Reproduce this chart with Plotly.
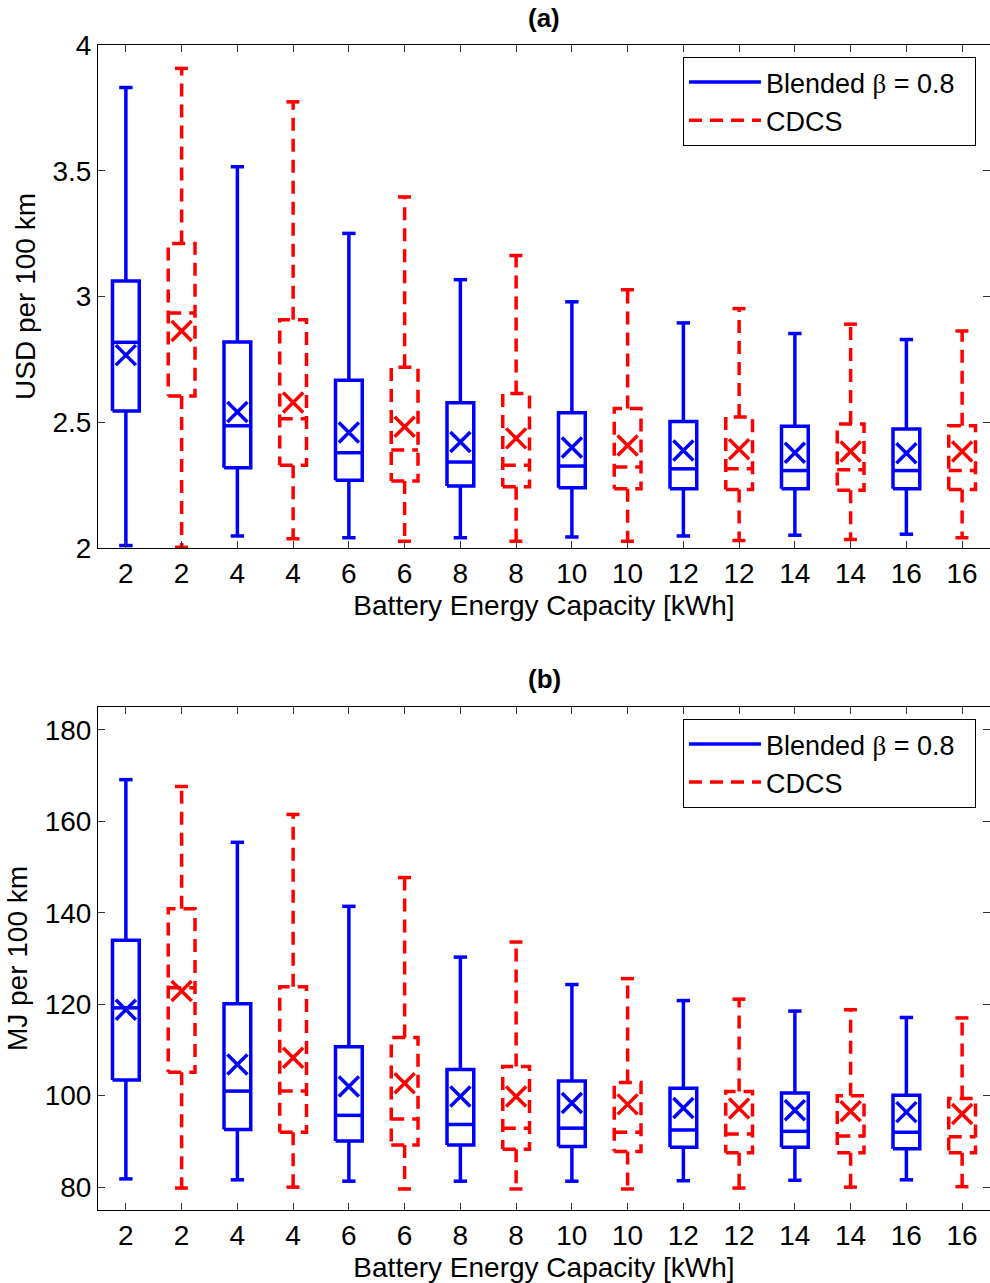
import plotly.graph_objects as go

# ---------------- data ----------------
capacities = [2, 4, 6, 8, 10, 12, 14, 16]
tick_labels = ["2", "2", "4", "4", "6", "6", "8", "8", "10", "10", "12", "12", "14", "14", "16", "16"]

# Panel (a): USD per 100 km
blend_upper_a = [3.831, 3.516, 3.251, 3.067, 2.979, 2.895, 2.853, 2.829]
blend_q3_a = [3.062, 2.819, 2.667, 2.578, 2.538, 2.503, 2.484, 2.473]
blend_median_a = [2.818, 2.486, 2.379, 2.342, 2.326, 2.315, 2.308, 2.308]
blend_q1_a = [2.545, 2.319, 2.270, 2.247, 2.240, 2.236, 2.236, 2.236]
blend_lower_a = [2.010, 2.048, 2.041, 2.041, 2.044, 2.048, 2.051, 2.055]
blend_mean_a = [2.767, 2.541, 2.459, 2.422, 2.400, 2.388, 2.379, 2.377]

cdcs_upper_a = [3.907, 3.774, 3.396, 3.163, 3.027, 2.952, 2.890, 2.863]
cdcs_q3_a = [3.211, 2.908, 2.719, 2.614, 2.555, 2.521, 2.493, 2.486]
cdcs_median_a = [2.934, 2.514, 2.390, 2.329, 2.322, 2.315, 2.311, 2.308]
cdcs_q1_a = [2.605, 2.329, 2.267, 2.244, 2.236, 2.233, 2.230, 2.233]
cdcs_lower_a = [2.003, 2.037, 2.027, 2.027, 2.027, 2.030, 2.034, 2.041]
cdcs_mean_a = [2.863, 2.579, 2.482, 2.436, 2.408, 2.393, 2.384, 2.384]

# Panel (b): MJ per 100 km
blend_upper_b = [169.1, 155.4, 141.4, 130.3, 124.3, 120.8, 118.5, 117.1]
blend_q3_b = [134.0, 120.1, 110.7, 105.7, 103.2, 101.6, 100.6, 100.1]
blend_median_b = [119.2, 101.0, 95.7, 93.7, 92.9, 92.5, 92.2, 92.0]
blend_q1_b = [103.4, 92.6, 90.1, 89.2, 88.9, 88.7, 88.7, 88.4]
blend_lower_b = [81.8, 81.6, 81.3, 81.3, 81.3, 81.4, 81.5, 81.6]
blend_mean_b = [118.8, 106.8, 102.0, 99.8, 98.4, 97.3, 96.8, 96.4]

cdcs_upper_b = [167.6, 161.5, 147.7, 133.6, 125.6, 121.1, 118.8, 117.0]
cdcs_q3_b = [140.9, 123.8, 112.7, 106.4, 102.9, 100.9, 100.0, 99.4]
cdcs_median_b = [123.6, 101.0, 94.9, 92.9, 92.0, 91.6, 91.2, 91.0]
cdcs_q1_b = [105.1, 92.0, 89.2, 88.3, 87.8, 87.5, 87.5, 87.5]
cdcs_lower_b = [79.8, 80.0, 79.6, 79.6, 79.6, 79.8, 80.0, 80.1]
cdcs_mean_b = [122.9, 108.3, 102.7, 99.8, 98.1, 97.2, 96.6, 96.0]

BLUE = "rgb(0,0,255)"
RED = "rgb(255,0,0)"
FONT = "Liberation Sans, Arial, sans-serif"
FS = 28
BOX_HALF = 0.24
CAP_HALF = 0.12
LW = 3.5


def box_path(positions, lower, q1, med, q3, upper):
    xs, ys = [], []

    def seg(pts):
        for p in pts:
            xs.append(p[0])
            ys.append(p[1])
        xs.append(None)
        ys.append(None)

    for p, lo, a, m, b, up in zip(positions, lower, q1, med, q3, upper):
        seg([(p, b), (p, up)])
        seg([(p - CAP_HALF, up), (p + CAP_HALF, up)])
        seg([(p, a), (p, lo)])
        seg([(p - CAP_HALF, lo), (p + CAP_HALF, lo)])
        seg([(p - BOX_HALF, a), (p + BOX_HALF, a), (p + BOX_HALF, b), (p - BOX_HALF, b), (p - BOX_HALF, a)])
        seg([(p - BOX_HALF, m), (p + BOX_HALF, m)])
    return xs, ys


blend_pos = [2 * i + 1 for i in range(len(capacities))]
cdcs_pos = [2 * i + 2 for i in range(len(capacities))]

fig = go.Figure()

BLEND_NAME = "Blended <span style=\"font-family:'Liberation Serif'\">β</span> = 0.8\u00a0\u00a0"

panels = [
    ("x", "y", "legend",
     (blend_lower_a, blend_q1_a, blend_median_a, blend_q3_a, blend_upper_a, blend_mean_a),
     (cdcs_lower_a, cdcs_q1_a, cdcs_median_a, cdcs_q3_a, cdcs_upper_a, cdcs_mean_a)),
    ("x2", "y2", "legend2",
     (blend_lower_b, blend_q1_b, blend_median_b, blend_q3_b, blend_upper_b, blend_mean_b),
     (cdcs_lower_b, cdcs_q1_b, cdcs_median_b, cdcs_q3_b, cdcs_upper_b, cdcs_mean_b)),
]

for xa, ya, leg, bl, cd in panels:
    for name, pos, stats, color, dash in [
        (BLEND_NAME, blend_pos, bl, BLUE, "solid"),
        ("CDCS", cdcs_pos, cd, RED, "13px,8px"),
    ]:
        lo, a, m, b, up, mean = stats
        xs, ys = box_path(pos, lo, a, m, b, up)
        fig.add_trace(go.Scatter(
            x=xs, y=ys, mode="lines", name=name,
            line=dict(color=color, width=LW, dash=dash),
            connectgaps=False, xaxis=xa, yaxis=ya, legend=leg,
            hoverinfo="skip",
        ))
        fig.add_trace(go.Scatter(
            x=pos, y=mean, mode="markers", name=name + " mean",
            marker=dict(symbol="x-thin", size=20, line=dict(color=color, width=LW)),
            xaxis=xa, yaxis=ya, showlegend=False,
        ))

axis_common = dict(
    showline=True, linecolor="black", linewidth=1, mirror="ticks",
    ticks="inside", ticklen=7, tickcolor="#333", tickwidth=1,
    showgrid=False, zeroline=False,
    tickfont=dict(family=FONT, size=FS, color="black"),
)

x_common = dict(axis_common, range=[0.5, 16.5], tickmode="array",
                tickvals=list(range(1, 17)), ticktext=tick_labels,
                title=dict(text="Battery Energy Capacity [kWh]",
                           font=dict(family=FONT, size=FS, color="black"), standoff=7))

legend_common = dict(xanchor="left", yanchor="top",
                     bgcolor="white", bordercolor="black", borderwidth=1,
                     font=dict(family=FONT, size=27, color="black"), itemwidth=72,
                     tracegroupgap=0)

fig.update_layout(
    width=990, height=1283,
    paper_bgcolor="white", plot_bgcolor="white",
    margin=dict(l=98, r=0, t=45, b=73),
    showlegend=True,
    xaxis=dict(x_common, domain=[0, 1], anchor="y"),
    yaxis=dict(axis_common, domain=[0.5682, 1.0], range=[2, 4], tickmode="array",
               tickvals=[2, 2.5, 3, 3.5, 4], ticktext=["2", "2.5", "3", "3.5", "4"],
               title=dict(text="USD per 100 km", font=dict(family=FONT, size=FS, color="black"), standoff=8)),
    xaxis2=dict(x_common, domain=[0, 1], anchor="y2"),
    yaxis2=dict(axis_common, domain=[0.0, 0.4318], range=[75, 185], tickmode="array",
                tickvals=[80, 100, 120, 140, 160, 180],
                title=dict(text="MJ per 100 km", font=dict(family=FONT, size=FS, color="black"), standoff=8)),
    legend=dict(legend_common, x=0.6558, y=0.9897),
    legend2=dict(legend_common, x=0.6558, y=0.4215),
    annotations=[
        dict(text="<b>(a)</b>", x=0.5, y=1.0, xref="paper", yref="paper",
             xanchor="center", yanchor="middle", yshift=27, showarrow=False,
             font=dict(family=FONT, size=26, color="black")),
        dict(text="<b>(b)</b>", x=0.5, y=0.4318, xref="paper", yref="paper",
             xanchor="center", yanchor="middle", yshift=28, showarrow=False,
             font=dict(family=FONT, size=26, color="black")),
    ],
)

fig.write_html("out.html", config={"displayModeBar": False},
               post_script="document.body.style.margin='0px';document.body.style.overflow='hidden';")
